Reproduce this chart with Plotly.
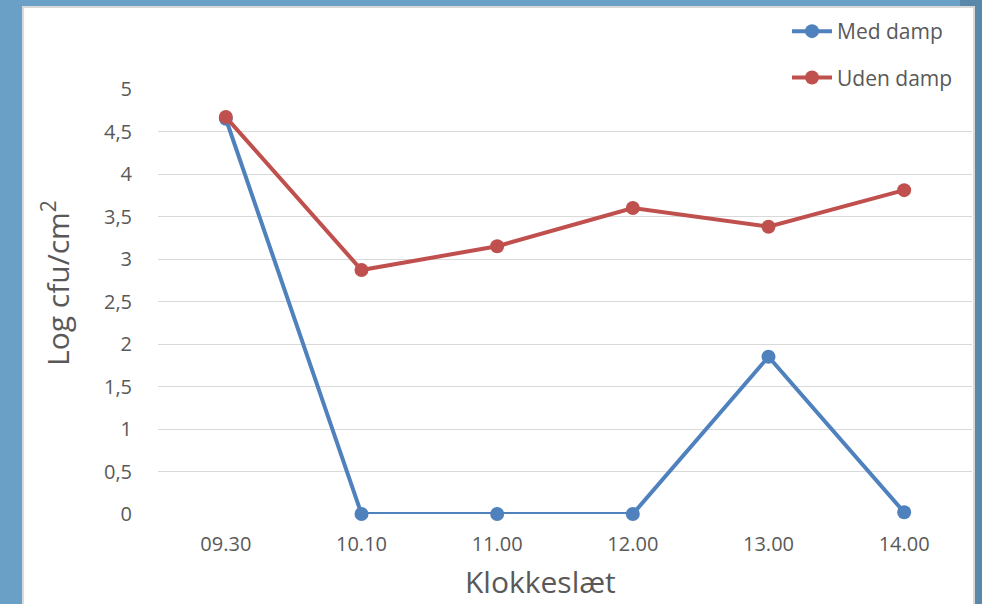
import plotly.graph_objects as go

categories = ["09.30", "10.10", "11.00", "12.00", "13.00", "14.00"]
med_damp = [4.65, 0.0, 0.0, 0.0, 1.85, 0.02]
uden_damp = [4.67, 2.87, 3.15, 3.60, 3.38, 3.81]
y_tickvals = [0, 0.5, 1, 1.5, 2, 2.5, 3, 3.5, 4, 4.5, 5]
y_ticktext = ["0", "0,5", "1", "1,5", "2", "2,5", "3", "3,5", "4", "4,5", "5"]

W, H = 982, 604
L, R, T, B = 158, 10, 89, 90
PW, PH = W - L - R, H - T - B

def px_x(px):
    return (px - L) / PW

def px_y(py):
    return (H - B - py) / PH

BLUE = "#4F81BD"
RED = "#C0504D"
GRAY = "#595959"
FONT = "Open Sans"

fig = go.Figure()
fig.add_trace(go.Scatter(
    x=categories, y=med_damp, name="Med damp", mode="lines+markers",
    line=dict(color=BLUE, width=4), marker=dict(color=BLUE, size=14),
    legendgroup="a", cliponaxis=False))
fig.add_trace(go.Scatter(
    x=categories, y=uden_damp, name="Uden damp", mode="lines+markers",
    line=dict(color=RED, width=4), marker=dict(color=RED, size=14),
    legendgroup="b", cliponaxis=False))

fig.update_layout(
    width=W, height=H,
    margin=dict(l=L, r=R, t=T, b=B),
    paper_bgcolor="#6A9FC6",
    plot_bgcolor="rgba(0,0,0,0)",
    font=dict(family=FONT, color=GRAY, size=20),
    showlegend=True,
    legend=dict(
        x=px_x(787), y=px_y(11), xanchor="left", yanchor="top",
        font=dict(size=21, color=GRAY, family=FONT), bgcolor="rgba(0,0,0,0)",
        tracegroupgap=16, itemwidth=40,
    ),
    xaxis=dict(
        type="category", range=[-0.5, 5.5], showgrid=False, zeroline=False,
        showline=False, ticks="", tickfont=dict(size=20, color=GRAY, family=FONT),
        ticklabelstandoff=16,
    ),
    yaxis=dict(
        range=[0, 5], tickvals=y_tickvals, ticktext=y_ticktext,
        showgrid=True, gridcolor="#D9D9D9", gridwidth=1, zeroline=False,
        showline=False, ticks="", tickfont=dict(size=20, color=GRAY, family=FONT),
        ticklabelstandoff=25,
    ),
    shapes=[
        dict(type="rect", xref="paper", yref="paper",
             x0=px_x(960), x1=px_x(990), y0=px_y(-10), y1=px_y(620),
             fillcolor="#5A88AA", line=dict(width=0), layer="below"),
        dict(type="rect", xref="paper", yref="paper",
             x0=px_x(23), x1=px_x(974), y0=px_y(7), y1=px_y(640),
             fillcolor="white", line=dict(color="#D9D9D9", width=2), layer="below"),
    ],
    annotations=[
        dict(text="Klokkeslæt", xref="paper", yref="paper",
             x=px_x(540), y=px_y(581), xanchor="center", yanchor="middle",
             showarrow=False, font=dict(size=30, color=GRAY, family=FONT)),
        dict(text="Log cfu/cm<sup>2</sup>", xref="paper", yref="paper",
             x=px_x(56), y=px_y(283), xanchor="center", yanchor="middle",
             showarrow=False, textangle=-90,
             font=dict(size=30, color=GRAY, family=FONT)),
    ],
)

fig.write_html("out.html")
